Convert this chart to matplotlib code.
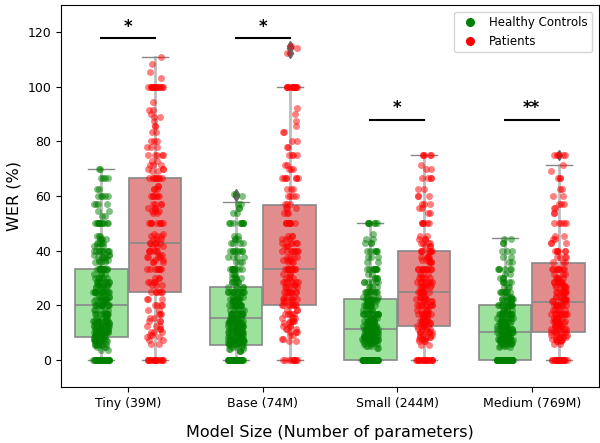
import numpy as np
import matplotlib
matplotlib.use("Agg")
import matplotlib.pyplot as plt
from matplotlib.lines import Line2D

# Categories and groups
models = ['Tiny (39M)', 'Base (74M)', 'Small (244M)', 'Medium (769M)']
groups = ['Healthy Controls', 'Patients']

# Box statistics: (whislo, q1, med, q3, whishi)
hc_stats = [(0, 8.3, 20.0, 33.3, 70.0),
            (0, 5.4, 15.4, 26.7, 57.8),
            (0, 0.0, 11.1, 22.3, 50.0),
            (0, 0.0, 10.0, 20.0, 44.5)]
pt_stats = [(0, 25.0, 42.8, 66.6, 111.0),
            (0, 20.0, 33.3, 56.7, 100.0),
            (0, 12.5, 25.0, 40.0, 75.0),
            (0, 10.0, 21.0, 35.5, 71.5)]
hc_fliers = [[], [60.0, 60.9], [], []]
pt_fliers = [[], [112.5, 114.3, 115.0], [], [75.0]]

# Per-utterance WER values (value, count) for the strip points
tiny_hc_vals = [0, 3.4, 4.5, 5.3, 5.9, 6.7, 7.1, 7.7, 8.3, 9.1, 10, 11.1, 12.5, 13.3, 14.3, 15.4,
                16.7, 18.2, 20, 21.4, 22.2, 23.1, 25, 26.7, 27.3, 28.6, 30, 31.3, 33.3, 35.7, 36.4,
                37.5, 38.5, 40, 41.7, 42.9, 44.4, 45.5, 50, 52.6, 54.5, 57.1, 60, 62.5, 66.7, 70]
tiny_hc_counts = [40, 2, 3, 4, 4, 8, 6, 6, 8, 7, 10, 9, 10, 6, 10, 5,
                  10, 5, 12, 5, 7, 5, 14, 6, 5, 9, 6, 4, 14, 4, 3,
                  5, 3, 10, 3, 5, 4, 3, 12, 2, 2, 4, 5, 2, 4, 2]

tiny_pt_vals = [0, 5.6, 7.1, 8.3, 9.1, 10, 11.1, 12.5, 14.3, 15.4, 16.7, 18.2, 20, 22.2, 25,
                27.3, 28.6, 30, 33.3, 35.7, 36.4, 37.5, 38.5, 40, 41.7, 42.9,
                44.4, 45.5, 46.2, 50, 53.8, 54.5, 55.6, 57.1, 60, 62.5, 63.6, 66.7,
                69.2, 70, 71.4, 72.7, 75, 77.8, 80, 83.3, 85.7, 87.5, 88.9, 90, 91.7, 94.4,
                100, 103.3, 105.6, 108.3, 111.1]
tiny_pt_counts = [18, 2, 2, 2, 2, 3, 2, 3, 3, 2, 3, 2, 4, 3, 6,
                  3, 4, 3, 8, 3, 2, 4, 2, 6, 3, 5,
                  3, 3, 2, 9, 2, 3, 3, 4, 6, 3, 2, 9,
                  2, 3, 3, 2, 5, 3, 3, 2, 2, 1, 2, 1, 2, 1,
                  16, 1, 1, 1, 1]

base_hc_vals = [0, 3.3, 4, 4.8, 5.3, 5.9, 6.3, 6.7, 7.1, 7.7, 8.3, 9.1, 10, 11.1, 12.5, 13.3, 14.3,
                15.4, 16.7, 18.2, 20, 21.4, 22.2, 23.1, 25, 26.7, 28.6, 30, 31.3, 33.3, 35.7,
                37.5, 40, 42.9, 44.4, 45.5, 50, 53.8, 55.6, 57.1, 60, 60.9]
base_hc_counts = [55, 3, 3, 3, 4, 4, 4, 7, 6, 6, 9, 7, 11, 10, 11, 6, 10,
                  7, 12, 6, 12, 5, 6, 5, 12, 5, 6, 5, 3, 10, 3,
                  4, 8, 4, 3, 2, 9, 2, 2, 2, 1, 1]

base_pt_vals = [0, 6.7, 7.7, 9.1, 10, 11.1, 12.5, 13.3, 14.3, 15.4, 16.7, 18.2, 20,
                21.4, 22.2, 23.1, 25, 26.7, 27.3, 28.6, 30, 31.3, 33.3,
                35.7, 36.4, 37.5, 40, 41.7, 42.9, 44.4, 45.5, 50, 53.8, 55.6, 57.1,
                60, 62.5, 66.7, 70, 71.4, 75, 77.8, 80, 83.3, 85.7, 87.5, 90, 92.3,
                100, 112.5, 114.3, 115]
base_pt_counts = [10, 2, 2, 2, 3, 3, 3, 2, 4, 3, 5, 3, 8,
                  3, 4, 3, 9, 4, 3, 6, 4, 3, 11,
                  3, 3, 4, 8, 3, 5, 3, 3, 9, 3, 3, 3,
                  4, 3, 7, 3, 2, 4, 2, 2, 2, 1, 1, 1, 1,
                  14, 1, 1, 1]

small_hc_vals = [0, 4.3, 5, 5.6, 6.3, 6.7, 7.1, 7.7, 8.3, 9.1, 10, 11.1,
                 12.5, 13.3, 14.3, 15.4, 16.7, 18.2, 20, 21.4, 22.2,
                 23.1, 25, 26.7, 28.6, 30, 31.3, 33.3, 35.7, 37.5, 40, 42.9, 44.4, 46.2, 50]
small_hc_counts = [80, 2, 3, 3, 4, 6, 6, 6, 8, 8, 10, 10,
                   10, 6, 10, 6, 12, 6, 12, 5, 7,
                   4, 10, 4, 6, 4, 2, 9, 2, 3, 6, 3, 2, 1, 7]

small_pt_vals = [0, 5.3, 6.7, 7.7, 8.3, 9.1, 10, 11.1, 12.5,
                 13.3, 14.3, 15.4, 16.7, 18.2, 20, 21.4, 22.2, 23.1, 25,
                 26.7, 27.3, 28.6, 30, 31.3, 33.3, 35.7, 36.4, 37.5, 40,
                 41.7, 42.9, 44.4, 45.5, 50, 53.8, 55.6, 57.1, 60, 62.5, 66.7, 70, 71.4, 75]
small_pt_counts = [20, 2, 3, 3, 4, 3, 6, 4, 6,
                   4, 6, 4, 8, 5, 9, 3, 5, 4, 10,
                   5, 3, 7, 5, 3, 10, 4, 3, 5, 8,
                   3, 4, 3, 2, 6, 2, 2, 3, 3, 2, 4, 2, 1, 5]

medium_hc_vals = [0, 4.5, 5, 5.6, 6.3, 6.7, 7.1, 7.7, 8.3, 9.1, 10,
                  11.1, 12.5, 13.3, 14.3, 15.4, 16.7, 18.2, 20,
                  21.4, 22.2, 23.1, 25, 26.7, 28.6, 30, 31.3, 33.3, 35.7, 37.5, 40, 42.9, 44.4]
medium_hc_counts = [85, 2, 3, 3, 4, 6, 6, 6, 9, 8, 12,
                    10, 10, 6, 10, 6, 12, 6, 12,
                    4, 6, 4, 8, 3, 5, 3, 2, 6, 2, 2, 3, 2, 2]

medium_pt_vals = [0, 5.9, 6.7, 7.1, 7.7, 8.3, 9.1, 10,
                  11.1, 12.5, 13.3, 14.3, 15.4, 16.7, 18.2, 20, 21.4,
                  22.2, 23.1, 25, 26.7, 27.3, 28.6, 30, 31.3, 33.3, 35.7,
                  37.5, 40, 42.9, 44.4, 45.5, 50, 53.8, 55.6, 57.1, 60, 62.5, 66.7, 69.2, 71.4, 75]
medium_pt_counts = [22, 2, 3, 3, 3, 5, 4, 7,
                    5, 7, 5, 7, 5, 9, 5, 9, 4,
                    5, 4, 9, 5, 3, 7, 5, 3, 8, 3,
                    4, 6, 3, 2, 2, 5, 2, 2, 3, 2, 2, 3, 1, 1, 5]

hc_points = [(tiny_hc_vals, tiny_hc_counts), (base_hc_vals, base_hc_counts),
             (small_hc_vals, small_hc_counts), (medium_hc_vals, medium_hc_counts)]
pt_points = [(tiny_pt_vals, tiny_pt_counts), (base_pt_vals, base_pt_counts),
             (small_pt_vals, small_pt_counts), (medium_pt_vals, medium_pt_counts)]

# Significance annotations: (label, bar height)
sig_labels = ['*', '*', '*', '**']
sig_heights = [118, 118, 88, 88]

box_colors = ['#9ce29c', '#e28d8d']
point_colors = ['green', 'red']
offset = 0.2
box_width = 0.39
jitter = 0.06

fig, ax = plt.subplots(figsize=(6, 4.43), dpi=100)
fig.subplots_adjust(left=61 / 600, right=599 / 600, top=1 - 5 / 443, bottom=1 - 387 / 443)

for g, (stats_list, fliers, pts) in enumerate([(hc_stats, hc_fliers, hc_points),
                                                 (pt_stats, pt_fliers, pt_points)]):
    shift = -offset if g == 0 else offset
    bxp_stats = [dict(whislo=s[0], q1=s[1], med=s[2], q3=s[3], whishi=s[4], fliers=f)
                 for s, f in zip(stats_list, fliers)]
    positions = np.arange(len(models)) + shift
    ax.bxp(bxp_stats, positions=positions, widths=box_width, patch_artist=True,
           showfliers=True,
           boxprops=dict(facecolor=box_colors[g], edgecolor='#888888', linewidth=1.2),
           medianprops=dict(color='#888888', linewidth=1.2),
           whiskerprops=dict(color='#bdbdbd', linewidth=2),
           capprops=dict(color='#888888', linewidth=1),
           flierprops=dict(marker='d', markerfacecolor='#666666', markeredgecolor='#666666',
                           markersize=5),
           zorder=2)

    # Strip points, spread sideways with a deterministic hash-based jitter
    for i, (vals, counts) in enumerate(pts):
        y = np.repeat(vals, counts)
        k = np.arange(len(y)) + 1.0 + 37 * i + 101 * g
        frac = (np.sin(k * 12.9898) * 43758.5453) % 1
        x = positions[i] + (frac - 0.5) * 2 * jitter
        ax.scatter(x, y, s=25, color=point_colors[g], alpha=0.5, linewidths=0, zorder=3)

# Significance bars
for i, (lab, h) in enumerate(zip(sig_labels, sig_heights)):
    ax.plot([i - offset, i + offset], [h, h], color='black', lw=1.5, zorder=4)
    ax.text(i, h + 0.8, lab, ha='center', va='bottom', fontsize=12, fontweight='bold')

ax.set_xticks(np.arange(len(models)))
ax.set_xticklabels(models)
ax.set_xlim(-0.5, len(models) - 0.5)
ax.set_ylim(-10, 130)
ax.set_yticks(np.arange(0, 121, 20))
ax.tick_params(labelsize=9)
ax.set_xlabel('Model Size (Number of parameters)', fontsize=11.5, labelpad=11)
ax.set_ylabel('WER (%)', fontsize=11.5)

handles = [Line2D([], [], marker='o', linestyle='', color=c, markersize=5.5) for c in point_colors]
ax.legend(handles, groups, loc='upper right', fontsize=8.5, borderaxespad=0.6,
          handletextpad=0.6, borderpad=0.35)

fig.savefig('out.png', dpi=100)
